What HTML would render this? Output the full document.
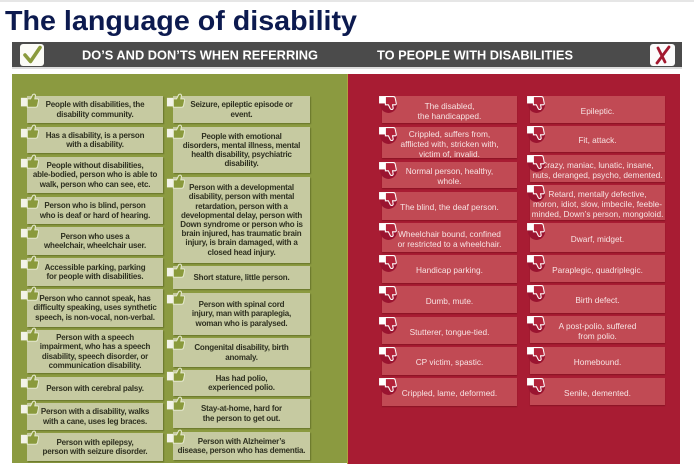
<!DOCTYPE html>
<html><head><meta charset="utf-8">
<style>
html,body{margin:0;padding:0;}
body{width:694px;height:466px;position:relative;background:#fff;overflow:hidden;font-family:"Liberation Sans",sans-serif;}
.abs{position:absolute;}
.g{position:absolute;background:#c6caa1;color:#2e3020;font-weight:bold;font-size:8px;line-height:9.2px;letter-spacing:-0.2px;display:flex;align-items:center;justify-content:center;text-align:center;white-space:nowrap;box-shadow:1px 1px 1px rgba(40,50,0,.35);}
.r{position:absolute;background:#c14a54;color:#f7e3e3;font-size:8.3px;line-height:10px;display:flex;align-items:center;justify-content:center;text-align:center;white-space:nowrap;box-shadow:0 1px 1px rgba(80,0,10,.35);}
.r span{padding-top:2px;}
.gi{position:absolute;width:19px;height:15px;}
.ri{position:absolute;width:19px;height:19px;}
</style></head><body>
<div class="abs" style="left:0;top:0;width:694px;height:2px;background:#e6e6e6"></div>
<svg class="abs" style="left:0;top:0" width="694" height="74">
  <text x="5" y="30" font-family="Liberation Sans, sans-serif" font-weight="bold" font-size="28" fill="#0c1a4f" textLength="352" lengthAdjust="spacingAndGlyphs">The language of disability</text>
  <rect x="12" y="42" width="670" height="25" fill="#4b4b4b"/>
  <rect x="12" y="67" width="670" height="2" fill="#dcdcdc"/>
  <rect x="20" y="44" width="24" height="22" rx="3" fill="#fbfbf6"/>
  <path d="M25 55 L30.5 61.5 L40 47.5" fill="none" stroke="#8a9a3c" stroke-width="3.6" stroke-linecap="round" stroke-linejoin="round"/>
  <rect x="650" y="44" width="25" height="22" rx="3" fill="#fbfbfb"/>
  <path d="M658 48 L665 62 M669 47 L657 63" fill="none" stroke="#a3182f" stroke-width="2.8" stroke-linecap="round"/>
  <text x="82" y="59.5" font-family="Liberation Sans, sans-serif" font-weight="bold" font-size="13" fill="#fff" textLength="236" lengthAdjust="spacingAndGlyphs">DO’S AND DON’TS WHEN REFERRING</text>
  <text x="377" y="59.5" font-family="Liberation Sans, sans-serif" font-weight="bold" font-size="13" fill="#fff" textLength="196" lengthAdjust="spacingAndGlyphs">TO PEOPLE WITH DISABILITIES</text>
</svg>
<div class="abs" style="left:12px;top:74px;width:335px;height:389px;background:#8b9a40"></div>
<div class="abs" style="left:347px;top:74px;width:333px;height:390px;background:#a81c33"></div>
<div class="abs" style="left:347px;top:74px;width:1px;height:390px;background:#b0a040"></div>

<!-- green col 1 -->
<div class="g" style="left:27px;top:96px;width:136px;height:27px">People with disabilities, the<br>disability community.</div>
<div class="g" style="left:27px;top:127px;width:136px;height:26px">Has a disability, is a person<br>with a disability.</div>
<div class="g" style="left:27px;top:157px;width:136px;height:36px">People without disabilities,<br>able-bodied, person who is able to<br>walk, person who can see, etc.</div>
<div class="g" style="left:27px;top:197px;width:136px;height:27px">Person who is blind, person<br>who is deaf or hard of hearing.</div>
<div class="g" style="left:27px;top:227px;width:136px;height:28px">Person who uses a<br>wheelchair, wheelchair user.</div>
<div class="g" style="left:27px;top:258px;width:136px;height:28px">Accessible parking, parking<br>for people with disabilities.</div>
<div class="g" style="left:27px;top:289px;width:136px;height:38px">Person who cannot speak, has<br>difficulty speaking, uses synthetic<br>speech, is non-vocal, non-verbal.</div>
<div class="g" style="left:27px;top:330px;width:136px;height:43px">Person with a speech<br>impairment, who has a speech<br>disability, speech disorder, or<br>communication disability.</div>
<div class="g" style="left:27px;top:377px;width:136px;height:23px">Person with cerebral palsy.</div>
<div class="g" style="left:27px;top:403px;width:136px;height:27px">Person with a disability, walks<br>with a cane, uses leg braces.</div>
<div class="g" style="left:27px;top:433px;width:136px;height:28px">Person with epilepsy,<br>person with seizure disorder.</div>

<!-- green col 2 -->
<div class="g" style="left:173px;top:96px;width:137px;height:27px">Seizure, epileptic episode or<br>event.</div>
<div class="g" style="left:173px;top:127px;width:137px;height:46px">People with emotional<br>disorders, mental illness, mental<br>health disability, psychiatric<br>disability.</div>
<div class="g" style="left:173px;top:177px;width:137px;height:86px">Person with a developmental<br>disability, person with mental<br>retardation, person with a<br>developmental delay, person with<br>Down syndrome or person who is<br>brain injured, has traumatic brain<br>injury, is brain damaged, with a<br>closed head injury.</div>
<div class="g" style="left:173px;top:266px;width:137px;height:23px">Short stature, little person.</div>
<div class="g" style="left:173px;top:293px;width:137px;height:42px">Person with spinal cord<br>injury, man with paraplegia,<br>woman who is paralysed.</div>
<div class="g" style="left:173px;top:338px;width:137px;height:29px">Congenital disability, birth<br>anomaly.</div>
<div class="g" style="left:173px;top:370px;width:137px;height:26px">Has had polio,<br>experienced polio.</div>
<div class="g" style="left:173px;top:399px;width:137px;height:29px">Stay-at-home, hard for<br>the person to get out.</div>
<div class="g" style="left:173px;top:432px;width:137px;height:28px">Person with Alzheimer’s<br>disease, person who has dementia.</div>

<!-- red col 1 -->
<div class="r" style="left:382px;top:96px;width:135px;height:27px"><span>The disabled,<br>the handicapped.</span></div>
<div class="r" style="left:382px;top:127px;width:135px;height:31px"><span>Crippled, suffers from,<br>afflicted with, stricken with,<br>victim of, invalid.</span></div>
<div class="r" style="left:382px;top:162px;width:135px;height:26px"><span>Normal person, healthy,<br>whole.</span></div>
<div class="r" style="left:382px;top:192px;width:135px;height:28px"><span>The blind, the deaf person.</span></div>
<div class="r" style="left:382px;top:223px;width:135px;height:29px"><span>Wheelchair bound, confined<br>or restricted to a wheelchair.</span></div>
<div class="r" style="left:382px;top:255px;width:135px;height:28px"><span>Handicap parking.</span></div>
<div class="r" style="left:382px;top:286px;width:135px;height:27px"><span>Dumb, mute.</span></div>
<div class="r" style="left:382px;top:317px;width:135px;height:27px"><span>Stutterer, tongue-tied.</span></div>
<div class="r" style="left:382px;top:347px;width:135px;height:28px"><span>CP victim, spastic.</span></div>
<div class="r" style="left:382px;top:378px;width:135px;height:28px"><span>Crippled, lame, deformed.</span></div>

<!-- red col 2 -->
<div class="r" style="left:530px;top:96px;width:135px;height:27px"><span>Epileptic.</span></div>
<div class="r" style="left:530px;top:126px;width:135px;height:26px"><span>Fit, attack.</span></div>
<div class="r" style="left:530px;top:155px;width:135px;height:27px"><span>Crazy, maniac, lunatic, insane,<br>nuts, deranged, psycho, demented.</span></div>
<div class="r" style="left:530px;top:185px;width:135px;height:35px"><span>Retard, mentally defective,<br>moron, idiot, slow, imbecile, feeble-<br>minded, Down’s person, mongoloid.</span></div>
<div class="r" style="left:530px;top:223px;width:135px;height:29px"><span>Dwarf, midget.</span></div>
<div class="r" style="left:530px;top:255px;width:135px;height:27px"><span>Paraplegic, quadriplegic.</span></div>
<div class="r" style="left:530px;top:285px;width:135px;height:28px"><span>Birth defect.</span></div>
<div class="r" style="left:530px;top:316px;width:135px;height:27px"><span>A post-polio, suffered<br>from polio.</span></div>
<div class="r" style="left:530px;top:347px;width:135px;height:27px"><span>Homebound.</span></div>
<div class="r" style="left:530px;top:378px;width:135px;height:27px"><span>Senile, demented.</span></div>

<svg width="0" height="0" style="position:absolute">
  <defs>
    <g id="tu">
      <rect x="0.5" y="4.5" width="6" height="8" fill="#f3f3e8"/>
      <path d="M6.5 5.5 h3 l2 -4 q2 -1.2 2.6 0.8 l-0.6 3.2 h2.3 q1.5 0 1.2 1.5 l-1 4.8 q-0.3 1.5 -1.7 1.5 h-7.8 z" fill="#8a9a3c" stroke="#e4e8cc" stroke-width="1"/>
    </g>
    <g id="td">
      <circle cx="10" cy="9" r="8" fill="#9a1430"/>
      <rect x="1" y="1" width="6" height="7" fill="#fff"/>
      <path d="M7 1.5 h7.5 q1.5 0 1.8 1.5 l1 4.8 q0.3 1.5 -1.2 1.5 h-2.3 l0.6 3.2 q-0.6 2 -2.6 0.8 l-2 -4 h-2.8 z" fill="#b3233a" stroke="#fff" stroke-width="1"/>
    </g>
  </defs>
</svg>
<svg class="gi" style="left:20px;top:93px" viewBox="0 0 17 14"><use href="#tu"/></svg>
<svg class="gi" style="left:20px;top:124px" viewBox="0 0 17 14"><use href="#tu"/></svg>
<svg class="gi" style="left:20px;top:154px" viewBox="0 0 17 14"><use href="#tu"/></svg>
<svg class="gi" style="left:20px;top:194px" viewBox="0 0 17 14"><use href="#tu"/></svg>
<svg class="gi" style="left:20px;top:224px" viewBox="0 0 17 14"><use href="#tu"/></svg>
<svg class="gi" style="left:20px;top:255px" viewBox="0 0 17 14"><use href="#tu"/></svg>
<svg class="gi" style="left:20px;top:286px" viewBox="0 0 17 14"><use href="#tu"/></svg>
<svg class="gi" style="left:20px;top:327px" viewBox="0 0 17 14"><use href="#tu"/></svg>
<svg class="gi" style="left:20px;top:374px" viewBox="0 0 17 14"><use href="#tu"/></svg>
<svg class="gi" style="left:20px;top:400px" viewBox="0 0 17 14"><use href="#tu"/></svg>
<svg class="gi" style="left:20px;top:430px" viewBox="0 0 17 14"><use href="#tu"/></svg>

<svg class="gi" style="left:166px;top:93px" viewBox="0 0 17 14"><use href="#tu"/></svg>
<svg class="gi" style="left:166px;top:124px" viewBox="0 0 17 14"><use href="#tu"/></svg>
<svg class="gi" style="left:166px;top:174px" viewBox="0 0 17 14"><use href="#tu"/></svg>
<svg class="gi" style="left:166px;top:263px" viewBox="0 0 17 14"><use href="#tu"/></svg>
<svg class="gi" style="left:166px;top:290px" viewBox="0 0 17 14"><use href="#tu"/></svg>
<svg class="gi" style="left:166px;top:335px" viewBox="0 0 17 14"><use href="#tu"/></svg>
<svg class="gi" style="left:166px;top:367px" viewBox="0 0 17 14"><use href="#tu"/></svg>
<svg class="gi" style="left:166px;top:396px" viewBox="0 0 17 14"><use href="#tu"/></svg>
<svg class="gi" style="left:166px;top:429px" viewBox="0 0 17 14"><use href="#tu"/></svg>

<svg class="ri" style="left:378px;top:95px" viewBox="0 0 18 18"><use href="#td"/></svg>
<svg class="ri" style="left:378px;top:126px" viewBox="0 0 18 18"><use href="#td"/></svg>
<svg class="ri" style="left:378px;top:161px" viewBox="0 0 18 18"><use href="#td"/></svg>
<svg class="ri" style="left:378px;top:191px" viewBox="0 0 18 18"><use href="#td"/></svg>
<svg class="ri" style="left:378px;top:222px" viewBox="0 0 18 18"><use href="#td"/></svg>
<svg class="ri" style="left:378px;top:254px" viewBox="0 0 18 18"><use href="#td"/></svg>
<svg class="ri" style="left:378px;top:285px" viewBox="0 0 18 18"><use href="#td"/></svg>
<svg class="ri" style="left:378px;top:316px" viewBox="0 0 18 18"><use href="#td"/></svg>
<svg class="ri" style="left:378px;top:346px" viewBox="0 0 18 18"><use href="#td"/></svg>
<svg class="ri" style="left:378px;top:377px" viewBox="0 0 18 18"><use href="#td"/></svg>

<svg class="ri" style="left:526px;top:95px" viewBox="0 0 18 18"><use href="#td"/></svg>
<svg class="ri" style="left:526px;top:125px" viewBox="0 0 18 18"><use href="#td"/></svg>
<svg class="ri" style="left:526px;top:154px" viewBox="0 0 18 18"><use href="#td"/></svg>
<svg class="ri" style="left:526px;top:184px" viewBox="0 0 18 18"><use href="#td"/></svg>
<svg class="ri" style="left:526px;top:222px" viewBox="0 0 18 18"><use href="#td"/></svg>
<svg class="ri" style="left:526px;top:254px" viewBox="0 0 18 18"><use href="#td"/></svg>
<svg class="ri" style="left:526px;top:284px" viewBox="0 0 18 18"><use href="#td"/></svg>
<svg class="ri" style="left:526px;top:315px" viewBox="0 0 18 18"><use href="#td"/></svg>
<svg class="ri" style="left:526px;top:346px" viewBox="0 0 18 18"><use href="#td"/></svg>
<svg class="ri" style="left:526px;top:377px" viewBox="0 0 18 18"><use href="#td"/></svg>
</body></html>
